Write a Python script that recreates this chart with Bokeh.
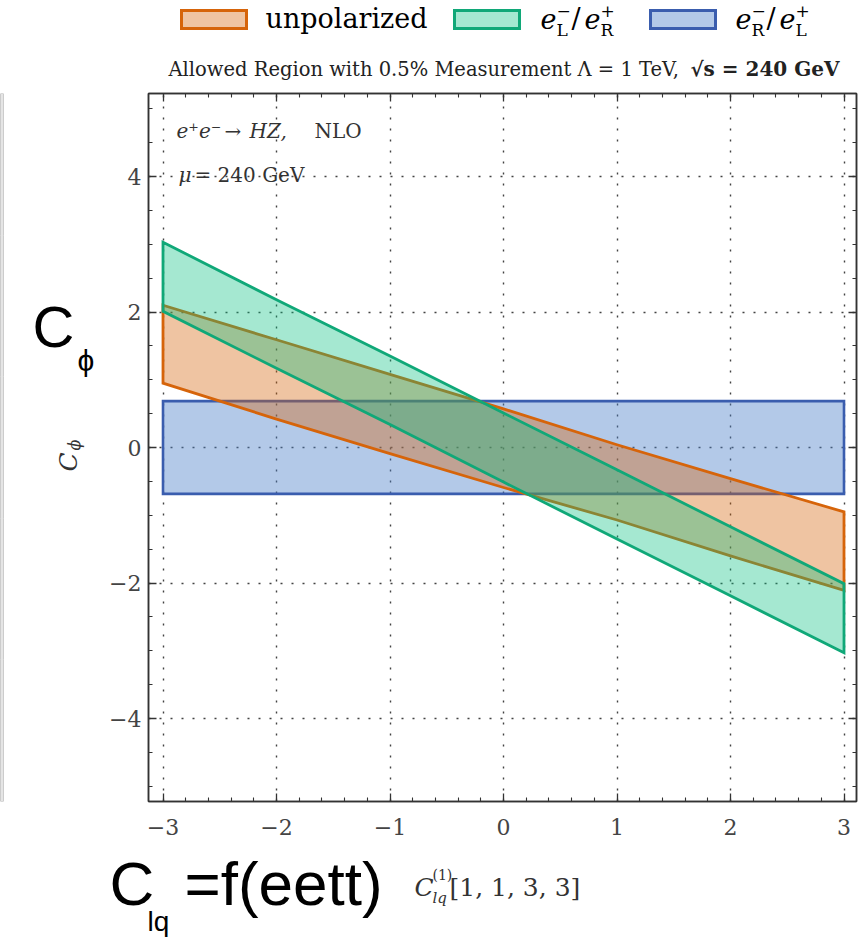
import numpy as np
from bokeh.plotting import figure
from bokeh.models import Range1d, LinearAxis, FixedTicker, CustomJSTickFormatter, Label
from bokeh.layouts import row, column
from bokeh.embed import file_html
from bokeh.resources import INLINE

# ---------------- data ----------------
c_lq = [-3, -2, -1, 0, 1, 2, 3]
unpol_upper = [2.10, 1.59, 1.08, 0.57, 0.04, -0.46, -0.95]
unpol_lower = [0.95, 0.42, -0.09, -0.59, -1.07, -1.60, -2.11]
lr_upper = [3.03, 2.18, 1.35, 0.51, -0.33, -1.17, -2.01]
lr_lower = [2.01, 1.17, 0.34, -0.51, -1.35, -2.19, -3.03]
rl_x = [-3, 3]
rl_upper = [0.685, 0.685]
rl_lower = [-0.685, -0.685]

x_ticks = [-3, -2, -1, 0, 1, 2, 3]
y_ticks = [-4, -2, 0, 2, 4]
x_minor = [round(v, 1) for v in np.arange(-3.2, 3.21, 0.2)]
y_minor = [round(v, 1) for v in np.arange(-5.0, 5.01, 0.5)]

ORANGE = "#D6640A"
GREEN_L = "#10A878"
GREEN_F = "#05BF7F"
BLUE_L = "#3A5DAE"
BLUE_F = "#4A7FC8"
ORANGE_A, GREEN_A, BLUE_A = 0.38, 0.36, 0.42

SERIF = "DejaVu Serif"
SANS = "Liberation Sans"

# ---------------- geometry (page pixels) ----------------
W, H = 868, 940
STRIP_W = 6
LEFT_W = 94           # left text panel: page x 6..100
HEAD_H = 85           # header: page y 0..85
TOP_H = 845           # upper block height; bottom text panel: page y 845..940
FRAME_L, FRAME_R, FRAME_T, FRAME_B = 148, 856, 93, 801
X0PX, XPU = 503.0, 113.5
Y0PX, YPU = 447.0, 67.75
MAIN_X0 = STRIP_W + LEFT_W   # page x where main figure starts
BASE_K = 0.37                # baseline correction (fraction of font size)


def dx(px):
    return (px - X0PX) / XPU


def dy(py):
    return (Y0PX - py) / YPU


def bare(width, height, xr, yr, bl, br, bt, bb):
    f = figure(width=width, height=height, output_backend="svg", toolbar_location=None,
               title=None, x_range=xr, y_range=yr, x_axis_location=None, y_axis_location=None,
               min_border_left=bl, min_border_right=br, min_border_top=bt, min_border_bottom=bb,
               outline_line_color=None, background_fill_color="white", border_fill_color="white")
    f.grid.visible = False
    return f


def add_text(fig, x, y, text, size, style="normal", font=SERIF, color="black", align="left", angle=0):
    off = BASE_K * size
    xo, yo = (-off, 0) if angle == 90 else (0, off)
    fig.add_layout(Label(x=x, y=y, x_offset=xo, y_offset=yo, text=text, text_font=font,
                         text_font_size=f"{size}px", text_font_style=style, text_color=color,
                         text_align=align, text_baseline="alphabetic",
                         angle=angle, angle_units="deg"))


# ---------------- left strip (edge of neighbouring panel) ----------------
strip = figure(width=STRIP_W, height=TOP_H, output_backend="svg", toolbar_location=None, title=None,
               x_range=Range1d(0, 1), y_range=Range1d(0, 1),
               x_axis_location=None, y_axis_location=None,
               min_border_left=0, min_border_right=3, min_border_top=FRAME_T - 6,
               min_border_bottom=TOP_H - FRAME_B,
               background_fill_color="#9a9a9a", border_fill_color="white", outline_line_color=None)

# ---------------- left text panel: frame = page y 93..801, x 6..100 ----------------
left = bare(LEFT_W, TOP_H, Range1d(STRIP_W, STRIP_W + LEFT_W), Range1d(0, FRAME_B - FRAME_T),
            0, 0, FRAME_T, TOP_H - FRAME_B)


def ly(py):
    return FRAME_B - py


# y axis label C_phi (rotated)
add_text(left, 77, ly(471), "C", 25, "italic", color="#333", angle=90)
add_text(left, 80, ly(450), "ϕ", 16, "italic", color="#333", angle=90)
# large hand-written style label
add_text(left, 32, ly(347), "C", 58, font=SANS)
add_text(left, 77, ly(371), "ϕ", 30, font=SANS)

# ---------------- header: legend + title (page coords, y flipped) ----------------
head = bare(W - MAIN_X0, HEAD_H, Range1d(FRAME_L, FRAME_R), Range1d(HEAD_H, 0),
            FRAME_L - MAIN_X0, W - FRAME_R, 0, 0)

swatches = [(181, 246, ORANGE, ORANGE, ORANGE_A),
            (454, 519, GREEN_L, GREEN_F, GREEN_A),
            (650, 715, BLUE_L, BLUE_F, BLUE_A)]
for l, r, lc, fc, fa in swatches:
    head.quad(left=[l], right=[r], top=[10], bottom=[28], fill_color=fc, fill_alpha=fa,
              line_color=lc, line_width=3, line_join="miter")

add_text(head, 265, 28, "unpolarized", 27)


def pol_label(fig, x0, sub1, sub2):
    add_text(fig, x0, 28, "e", 27, "italic")
    add_text(fig, x0 + 16, 17, "−", 17)
    add_text(fig, x0 + 16, 36, sub1, 17)
    add_text(fig, x0 + 31, 28, "/", 27)
    add_text(fig, x0 + 44, 28, "e", 27, "italic")
    add_text(fig, x0 + 60, 17, "+", 17)
    add_text(fig, x0 + 60, 36, sub2, 17)


pol_label(head, 540, "L", "R")
pol_label(head, 735, "R", "L")

add_text(head, 168, 76, "Allowed Region with 0.5% Measurement Λ = 1 TeV,", 19.5, color="#222")
add_text(head, 839, 76, "√s = 240 GeV", 20, "bold", color="#222", align="right")

# ---------------- main plot ----------------
p = figure(width=W - MAIN_X0, height=TOP_H - HEAD_H, output_backend="svg", toolbar_location=None,
           title=None,
           x_range=Range1d(dx(FRAME_L), dx(FRAME_R)), y_range=Range1d(dy(FRAME_B), dy(FRAME_T)),
           min_border_left=FRAME_L - MAIN_X0, min_border_right=W - FRAME_R,
           min_border_top=FRAME_T - HEAD_H, min_border_bottom=TOP_H - FRAME_B,
           background_fill_color="white", border_fill_color="white",
           outline_line_color="#333333", outline_line_width=1.5)

# regions: blue, orange, green (green on top)
p.patch(x=rl_x + rl_x[::-1], y=rl_upper + rl_lower[::-1], fill_color=BLUE_F, fill_alpha=BLUE_A,
        line_color=BLUE_L, line_width=2.6, line_join="miter")
p.patch(x=c_lq + c_lq[::-1], y=unpol_upper + unpol_lower[::-1], fill_color=ORANGE, fill_alpha=ORANGE_A,
        line_color=ORANGE, line_width=2.8, line_join="miter")
p.patch(x=c_lq + c_lq[::-1], y=lr_upper + lr_lower[::-1], fill_color=GREEN_F, fill_alpha=GREEN_A,
        line_color=GREEN_L, line_width=2.8, line_join="miter")

xt = FixedTicker(ticks=x_ticks, minor_ticks=x_minor)
yt = FixedTicker(ticks=y_ticks, minor_ticks=y_minor)
minus_fmt = CustomJSTickFormatter(code="return tick < 0 ? '\u2212' + Math.abs(tick) : String(tick);")
blank_fmt = CustomJSTickFormatter(code="return '';")


def style_axis(ax):
    ax.major_tick_in = 8
    ax.major_tick_out = 0
    ax.minor_tick_in = 4
    ax.minor_tick_out = 0
    ax.major_tick_line_color = "#333333"
    ax.minor_tick_line_color = "#333333"
    ax.major_tick_line_width = 1.3
    ax.minor_tick_line_width = 1.1
    ax.axis_line_color = "#333333"
    ax.axis_line_width = 1.5


for ax in p.xaxis:
    ax.ticker = xt
    ax.formatter = minus_fmt
    style_axis(ax)
    ax.major_label_text_font = SERIF
    ax.major_label_text_font_size = "22px"
    ax.major_label_text_color = "#444444"
    ax.major_label_standoff = 17
for ax in p.yaxis:
    ax.ticker = yt
    ax.formatter = minus_fmt
    style_axis(ax)
    ax.major_label_text_font = SERIF
    ax.major_label_text_font_size = "22px"
    ax.major_label_text_color = "#444444"
    ax.major_label_standoff = 7

top_ax = LinearAxis(ticker=xt, formatter=blank_fmt, major_label_text_font_size="0px", major_label_standoff=0)
right_ax = LinearAxis(ticker=yt, formatter=blank_fmt, major_label_text_font_size="0px", major_label_standoff=0)
style_axis(top_ax)
style_axis(right_ax)
p.add_layout(top_ax, "above")
p.add_layout(right_ax, "right")

p.xgrid.ticker = xt
p.ygrid.ticker = yt
for g in (p.xgrid, p.ygrid):
    g.grid_line_color = "#222222"
    g.grid_line_alpha = 0.85
    g.grid_line_width = 1.4
    g.grid_line_dash = "2 9"


def mlab(x_px, y_px, text, size, style="normal", color="#333"):
    add_text(p, dx(x_px), dy(y_px), text, size, style, color=color)


# inner annotations
mlab(176, 138, "e⁺e⁻", 20, "italic")
mlab(224, 138, "→", 20)
mlab(249, 138, "HZ,", 20, "italic")
mlab(314, 138, "NLO", 20)
mlab(178, 182, "μ", 20, "italic")
mlab(194, 182, "= 240 GeV", 20)

# ---------------- bottom text panel (page coords, y flipped) ----------------
bottom = bare(W, H - TOP_H, Range1d(0, W), Range1d(H, TOP_H), 0, 0, 0, 0)
# x axis label C_lq^(1)[1,1,3,3]
add_text(bottom, 414, 896, "C", 25, "italic", color="#333")
add_text(bottom, 432, 880, "(1)", 14, color="#333")
add_text(bottom, 432, 903, "lq", 15, "italic", color="#333")
add_text(bottom, 449, 896, "[1, 1, 3, 3]", 25, color="#333")
# large hand-written style label
add_text(bottom, 109, 906, "C", 62, font=SANS)
add_text(bottom, 147, 931, "lq", 28, font=SANS)
add_text(bottom, 184, 906, "=f(eett)", 62, font=SANS)

layout = column(row(strip, left, column(head, p)), bottom)
open("out.html", "w").write(file_html(layout, INLINE))
